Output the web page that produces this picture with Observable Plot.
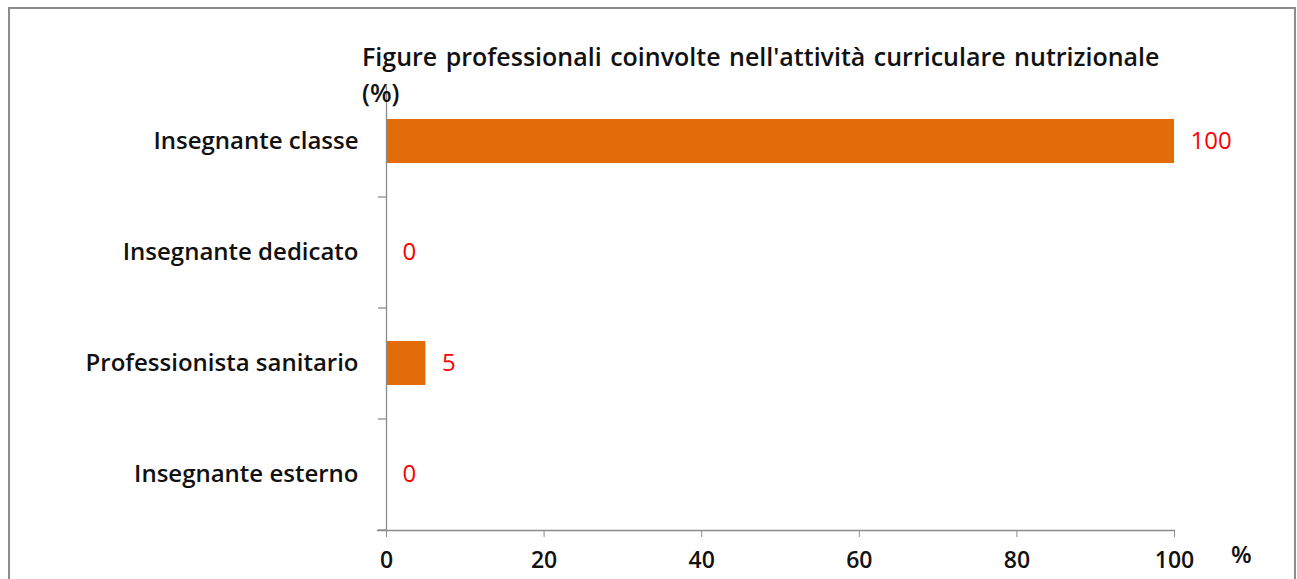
<!DOCTYPE html>
<html>
<head>
<meta charset="utf-8">
<script src="https://cdn.jsdelivr.net/npm/d3@7"></script>
<script src="https://cdn.jsdelivr.net/npm/@observablehq/plot@0.6"></script>
<style>
  html, body { margin: 0; padding: 0; background: #fff; }
  #wrap { position: relative; width: 1297px; height: 579px; overflow: hidden; font-family: "Open Sans", "Noto Sans", sans-serif; }
  #frame { position: absolute; left: 8px; top: 7px; width: 1288px; height: 600px; border: 2px solid #8c8c8c; box-sizing: border-box; }
  #title { position: absolute; left: 362px; top: 38px; font-weight: 600; font-size: 25px; line-height: 36px; color: #111; white-space: nowrap; word-spacing: 2px; }
  #unit { position: absolute; left: 1231px; top: 537px; font-size: 24px; font-weight: 600; color: #111; }
  #chart { position: absolute; left: 0; top: 0; }
</style>
</head>
<body>
<div id="wrap">
  <div id="frame"></div>
  <div id="chart"></div>
  <div id="title">Figure professionali coinvolte nell'attività curriculare nutrizionale<br>(%)</div>
  <div id="unit">%</div>
</div>
<script>
const categories = ["Insegnante classe", "Insegnante dedicato", "Professionista sanitario", "Insegnante esterno"];
const values = [100, 0, 5, 0];
const xTicks = [0, 20, 40, 60, 80, 100];

const data = categories.map((c, i) => ({category: c, value: values[i]}));

const W = 1297, H = 579;
const mL = 386, mR = 123, mT = 86, mB = 49;
const step = (H - mT - mB) / categories.length;

const chart = Plot.plot({
  width: W,
  height: H,
  marginLeft: mL,
  marginRight: mR,
  marginTop: mT,
  marginBottom: mB,
  style: {fontFamily: "'Open Sans', 'Noto Sans', sans-serif", background: "transparent", color: "#111"},
  x: {domain: [0, 100], ticks: xTicks, axis: null},
  y: {domain: categories, paddingInner: 0.6, paddingOuter: 0.3, axis: null},
  marks: [
    Plot.barX(data, {x: "value", y: "category", fill: "#e36c0a"}),
    Plot.text(data, {x: "value", y: "category", text: d => String(d.value), dx: 16, textAnchor: "start", fill: "#ff0000", fontSize: 24}),
    Plot.axisY({tickSize: 0, tickPadding: 28, fontSize: 24, fontWeight: 600, label: null}),
    Plot.ruleY(categories, {y: d => d, x1: 0, x2: 0, insetLeft: -8, dy: step / 2, stroke: "#8c8c8c", strokeWidth: 1.3}),
    Plot.axisX({ticks: xTicks, tickSize: 7, tickPadding: 14, fontSize: 23, fontWeight: 600, stroke: "#8c8c8c", label: null}),
    Plot.frame({anchor: "left", stroke: "#8c8c8c", strokeWidth: 1.3}),
    Plot.frame({anchor: "bottom", stroke: "#8c8c8c", strokeWidth: 1.3, insetLeft: -9})
  ]
});
document.getElementById("chart").appendChild(chart);
</script>
</body>
</html>
